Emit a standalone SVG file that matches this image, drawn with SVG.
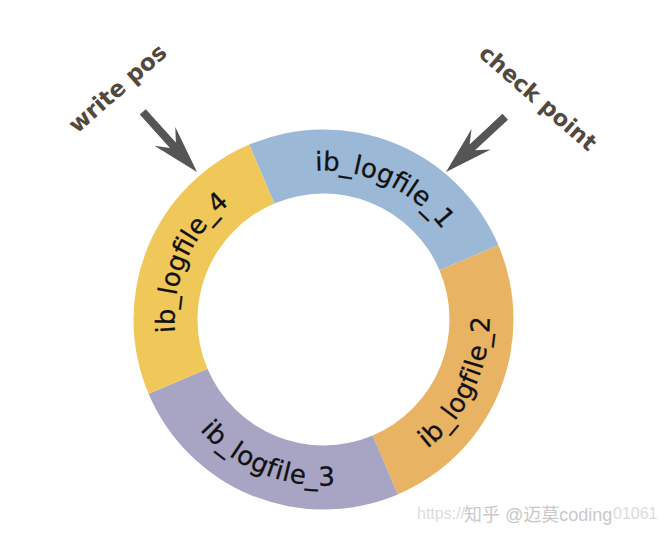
<svg xmlns="http://www.w3.org/2000/svg" xmlns:xlink="http://www.w3.org/1999/xlink" width="667" height="533" viewBox="0 0 667 533">
<style>
.lbl{font-family:"Comic Sans MS","DejaVu Sans",sans-serif;font-size:26px;fill:#111;stroke:#111;stroke-width:0.3px;}
.hdr{font-family:"Comic Sans MS","DejaVu Sans",sans-serif;font-weight:bold;font-size:23px;fill:#54483c;}
.arr{fill:#555555;}
.wm{font-family:"Liberation Sans","Noto Sans CJK SC",sans-serif;font-size:18px;fill:#c9c9c9;}
</style>
<defs>
<path id="arrowShape" d="M0,0 L-48,-14 L-36,-4 L-81,-4 L-81,4 L-36,4 L-48,14 Z"/>
<path id="p1" d="M238.04,197.44 A149,149 0 0 1 471.93,306.51"/>
<path id="p4" d="M204.51,409.17 A149,149 0 0 1 305.34,171.62"/>
<path id="p2" d="M337.97,484.87 A166,166 0 0 0 459.49,224.28"/>
<path id="p3" d="M159.11,342.61 A166,166 0 0 0 425.71,450.31"/>
</defs>
<rect width="667" height="533" fill="#ffffff"/>
<g id="ib_logfile_1">
<path d="M249.27,144.60 A190,190 0 0 1 498.40,245.27 L439.48,270.27 A126,126 0 0 0 274.27,203.52 Z" fill="#9bb9d7"/>
<text class="lbl" text-anchor="middle"><textPath href="#p1" xlink:href="#p1" startOffset="50%">ib_logfile_1</textPath></text>
</g>
<g id="ib_logfile_2">
<path d="M498.40,245.27 A190,190 0 0 1 397.73,494.40 L372.73,435.48 A126,126 0 0 0 439.48,270.27 Z" fill="#e8b464"/>
<text class="lbl" text-anchor="middle" letter-spacing="0.5"><textPath href="#p2" xlink:href="#p2" startOffset="50%">ib_logfile_2</textPath></text>
</g>
<g id="ib_logfile_3">
<path d="M397.73,494.40 A190,190 0 0 1 148.60,393.73 L207.52,368.73 A126,126 0 0 0 372.73,435.48 Z" fill="#a8a4c4"/>
<text class="lbl" text-anchor="middle" letter-spacing="0.5"><textPath href="#p3" xlink:href="#p3" startOffset="50%">ib_logfile_3</textPath></text>
</g>
<g id="ib_logfile_4">
<path d="M148.60,393.73 A190,190 0 0 1 249.27,144.60 L274.27,203.52 A126,126 0 0 0 207.52,368.73 Z" fill="#f0c85a"/>
<text class="lbl" text-anchor="middle"><textPath href="#p4" xlink:href="#p4" startOffset="50%">ib_logfile_4</textPath></text>
</g>
<g id="write_pos">
<text class="hdr" text-anchor="middle" transform="translate(118,89) rotate(-41)" y="7">write pos</text>
</g>
<g id="check_point">
<text class="hdr" text-anchor="middle" transform="translate(537.5,98.5) rotate(41)" y="7" style="font-size:22.5px">check point</text>
</g>
<g id="connectors">
<use href="#arrowShape" xlink:href="#arrowShape" class="arr" transform="translate(197,172) rotate(48)"/>
<use href="#arrowShape" xlink:href="#arrowShape" class="arr" transform="translate(446,172) rotate(137)"/>
</g>
<g id="watermark">
<text class="wm" x="417" y="519" style="fill:#dcdcdc;font-size:16px">https://</text>
<text class="wm" x="464" y="521">知乎 @迈莫coding</text>
<text class="wm" x="613" y="519" style="fill:#dcdcdc;font-size:16px">01061</text>
</g>
</svg>
